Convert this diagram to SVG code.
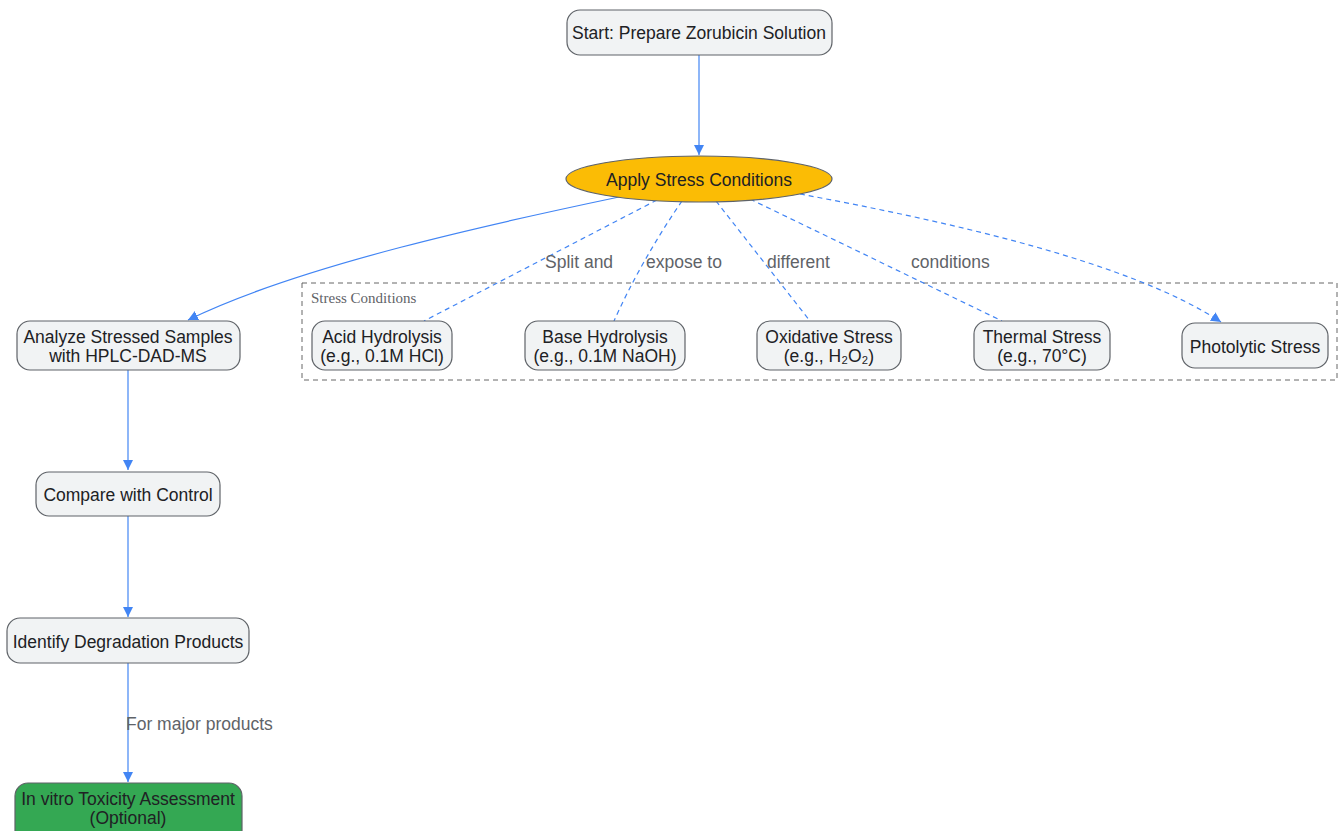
<svg xmlns="http://www.w3.org/2000/svg" width="1342" height="831" viewBox="0 0 1342 831">
<defs>
<marker id="ah" viewBox="0 0 10 10" refX="10" refY="5" markerWidth="10" markerHeight="10" markerUnits="userSpaceOnUse" orient="auto">
<path d="M0,0 L10,5 L0,10 z" fill="#4285F4"/>
</marker>
<style>
.n{fill:#F1F3F4;stroke:#5F6368;stroke-width:1.2}
.t{font-family:"Liberation Sans",Arial,sans-serif;font-size:17.5px;fill:#202124;text-anchor:middle}
.l{font-family:"Liberation Sans",Arial,sans-serif;font-size:17.5px;fill:#5F6368}
.e{fill:none;stroke:#4285F4;stroke-width:1.2}
.d{stroke-dasharray:5,4}
</style>
</defs>
<rect width="1342" height="831" fill="#fff"/>
<g id="cluster">
<rect x="302" y="283" width="1035" height="97" fill="none" stroke="#666" stroke-dasharray="5,4"/>
<text x="311" y="303" style="font-family:'Liberation Serif',serif;font-size:15px;fill:#5F6368">Stress Conditions</text>
</g>
<g id="edges">
<path class="e" d="M699,55 L699,155" marker-end="url(#ah)"/>
<path class="e" d="M619,197 C500,222 300,265 188,320" marker-end="url(#ah)"/>
<path class="e d" d="M657,200 L424,321"/>
<path class="e d" d="M682,201 C655,240 630,285 614,321"/>
<path class="e d" d="M716,201 L810,321"/>
<path class="e d" d="M750,199 L1002,321"/>
<path class="e d" d="M800,194 C950,222 1130,262 1221,322" marker-end="url(#ah)"/>
<path class="e" d="M128,370 L128,470" marker-end="url(#ah)"/>
<path class="e" d="M128,516 L128,617" marker-end="url(#ah)"/>
<path class="e" d="M128,663 L128,782" marker-end="url(#ah)"/>
<text class="l" x="545" y="268">Split and</text>
<text class="l" x="646" y="268">expose to</text>
<text class="l" x="767" y="268">different</text>
<text class="l" x="911" y="268">conditions</text>
<text class="l" x="126" y="730">For major products</text>
</g>
<g id="start">
<rect class="n" x="567" y="10" width="265" height="45" rx="13"/>
<text class="t" x="699" y="39">Start: Prepare Zorubicin Solution</text>
</g>
<g id="apply">
<ellipse cx="699" cy="179" rx="133" ry="23" fill="#FBBC05" stroke="#5F6368" stroke-width="1.2"/>
<text class="t" x="699" y="186">Apply Stress Conditions</text>
</g>
<g id="analyze">
<rect class="n" x="17" y="321" width="223" height="49" rx="13"/>
<text class="t" x="128" y="343">Analyze Stressed Samples</text>
<text class="t" x="128" y="362">with HPLC-DAD-MS</text>
</g>
<g id="compare">
<rect class="n" x="36" y="472" width="184" height="44" rx="13"/>
<text class="t" x="128" y="501">Compare with Control</text>
</g>
<g id="identify">
<rect class="n" x="7" y="618" width="242" height="45" rx="13"/>
<text class="t" x="128" y="648">Identify Degradation Products</text>
</g>
<g id="toxicity">
<rect x="15" y="783" width="227" height="60" rx="13" fill="#34A853" stroke="#5F6368" stroke-width="1.2"/>
<text class="t" x="128" y="805">In vitro Toxicity Assessment</text>
<text class="t" x="128" y="824">(Optional)</text>
</g>
<g id="acid">
<rect class="n" x="312" y="321" width="140" height="49" rx="13"/>
<text class="t" x="382" y="343">Acid Hydrolysis</text>
<text class="t" x="382" y="362">(e.g., 0.1M HCl)</text>
</g>
<g id="base">
<rect class="n" x="525" y="321" width="160" height="49" rx="13"/>
<text class="t" x="605" y="343">Base Hydrolysis</text>
<text class="t" x="605" y="362">(e.g., 0.1M NaOH)</text>
</g>
<g id="oxidative">
<rect class="n" x="757" y="321" width="144" height="49" rx="13"/>
<text class="t" x="829" y="343">Oxidative Stress</text>
<text class="t" x="829" y="362">(e.g., H₂O₂)</text>
</g>
<g id="thermal">
<rect class="n" x="974" y="321" width="136" height="49" rx="13"/>
<text class="t" x="1042" y="343">Thermal Stress</text>
<text class="t" x="1042" y="362">(e.g., 70°C)</text>
</g>
<g id="photolytic">
<rect class="n" x="1182" y="323" width="146" height="45" rx="13"/>
<text class="t" x="1255" y="353">Photolytic Stress</text>
</g>
</svg>
